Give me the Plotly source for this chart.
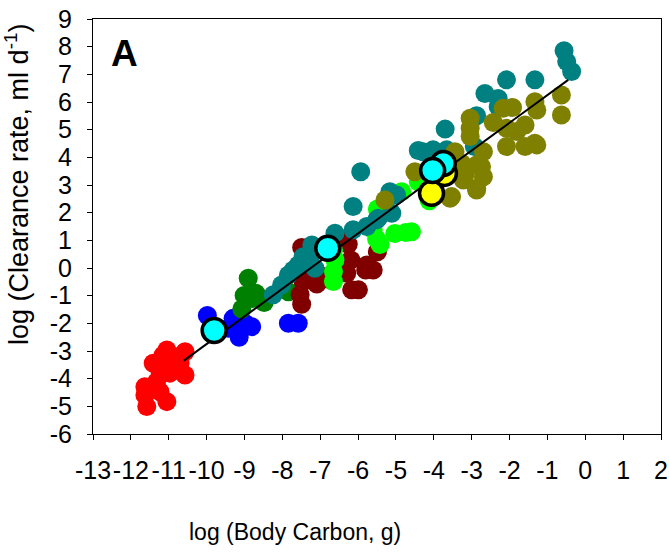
import plotly.graph_objects as go

# ---- data (log body carbon, log clearance rate) ----
red_x = [-11.05, -10.57, -11.41, -11.05, -10.70, -10.57, -10.97, -11.23, -11.63, -11.63, -11.23, -11.05, -11.58, -11.32, -10.85, -11.15, -10.80]
red_y = [-2.96, -3.03, -3.44, -3.44, -3.44, -3.87, -3.80, -3.75, -4.29, -4.59, -4.47, -4.83, -5.01, -4.11, -3.20, -3.15, -3.65]

blue_x = [-9.98, -9.20, -9.30, -9.12, -8.81, -8.99, -9.43, -9.14, -7.84, -7.58, -9.05]
blue_y = [-1.72, -1.90, -1.82, -2.30, -2.12, -2.00, -2.18, -2.50, -2.00, -2.00, -2.15]

green_x = [-8.90, -9.01, -8.70, -9.07, -8.48, -7.84, -8.80]
green_y = [-0.37, -0.99, -0.91, -1.48, -1.25, -0.86, -1.10]

maroon_x = [-7.49, -7.45, -7.53, -7.49, -7.09, -6.92, -6.35, -6.26, -6.19, -6.30, -6.17, -5.99, -5.80, -5.60, -5.49, -5.77, -7.25, -6.70]
maroon_y = [0.74, -0.50, -0.97, -1.31, -0.58, -0.31, 1.01, 0.86, 0.29, -0.19, -0.79, -0.79, -0.07, -0.07, 0.59, 0.11, 0.00, -0.45]

lime_x = [-6.65, -6.61, -6.65, -6.65, -5.60, -5.51, -5.49, -4.85, -4.74, -4.59, -5.03, -5.42, -4.12, -4.41]
lime_y = [0.65, 0.29, -0.13, -0.49, 1.38, 1.05, 2.13, 2.76, 1.28, 1.31, 1.25, 0.85, 2.43, 3.12]

teal_x = [-8.24, -8.02, -7.84, -7.58, -7.27, -7.14, -7.22, -6.61, -6.13, -5.77, -5.51, -7.71, -7.45,
          -5.93, -6.13, -5.47, -5.11, -5.16, -4.98, -4.28, -4.02, -3.66, -4.41, -2.93,
          -0.56, -0.49, -0.36, -2.08, -1.33, -2.65, -2.30, -2.87, -3.70, -2.30]
teal_y = [-0.97, -0.61, -0.25, 0.11, 0.29, -0.01, 0.83, 1.26, 1.38, 1.50, 1.74, -0.07, 0.41,
          3.48, 2.22, 1.80, 1.98, 2.76, 2.64, 4.20, 4.27, 4.27, 4.25, 4.39,
          7.85, 7.46, 7.10, 6.80, 6.80, 6.31, 6.13, 5.50, 5.02, 5.83]

olive_x = [-5.29, -4.50, -3.57, -3.44, -3.26, -3.18, -3.04, -3.04, -3.04, -2.87, -2.87, -2.69, -2.69,
           -2.43, -2.17, -1.92, -2.08, -2.08, -1.81, -1.59, -1.59, -1.33, -1.28, -1.28, -0.63, -0.63,
           -1.33, -3.22, -3.53, -4.20, -3.95, -2.74, -2.87]
olive_y = [2.46, 3.48, 2.52, 4.20, 3.78, 3.36, 5.05, 4.75, 5.41, 3.72, 2.88, 4.20, 3.30,
           5.26, 5.77, 5.80, 5.05, 4.39, 4.93, 5.17, 4.39, 6.01, 5.71, 4.45, 6.25, 5.53,
           4.51, 3.18, 2.58, 3.50, 3.35, 3.66, 2.82]

yellow_x = [-3.72, -4.06]
yellow_y = [3.42, 2.70]

cyan_x = [-9.80, -6.80, -3.75, -4.03]
cyan_y = [-2.26, 0.71, 3.78, 3.52]

fit_x = [-10.6, -0.45]
fit_y = [-3.35, 6.80]

x_ticks = list(range(-13, 3))
y_ticks = list(range(-6, 10))

fig = go.Figure()

def pts(x, y, color):
    fig.add_trace(go.Scatter(x=x, y=y, mode="markers",
                             marker=dict(size=19, color=color, line=dict(width=0)),
                             showlegend=False, hoverinfo="skip"))

pts(red_x, red_y, "#FF0000")
pts(blue_x, blue_y, "#0000FF")
pts(green_x, green_y, "#008000")
pts(maroon_x, maroon_y, "#800000")
pts(lime_x, lime_y, "#00FF00")
pts(teal_x, teal_y, "#008080")
pts(olive_x, olive_y, "#808000")

fig.add_trace(go.Scatter(x=fit_x, y=fit_y, mode="lines",
                         line=dict(color="black", width=2), showlegend=False, hoverinfo="skip"))

for xs, ys, c in [(yellow_x, yellow_y, "#FFFF00"), (cyan_x, cyan_y, "#00FFFF")]:
    fig.add_trace(go.Scatter(x=xs, y=ys, mode="markers",
                             marker=dict(size=24, color=c, line=dict(width=3.5, color="black")),
                             showlegend=False, hoverinfo="skip"))

sans = "Liberation Sans, Arial, sans-serif"

fig.update_xaxes(range=[-13, 2], tickmode="array", tickvals=x_ticks,
                 ticktext=[str(v) for v in x_ticks], tickangle=0, automargin=False,
                 ticks="outside", ticklen=5, tickwidth=1, tickcolor="black",
                 showline=True, linecolor="black", linewidth=1, mirror=True,
                 showgrid=False, zeroline=False,
                 tickfont=dict(family=sans, size=25, color="black"),
                 ticklabelstandoff=9)
fig.update_yaxes(range=[-6, 9], tickmode="array", tickvals=y_ticks,
                 ticktext=[str(v) for v in y_ticks], automargin=False,
                 ticks="outside", ticklen=5, tickwidth=1, tickcolor="black",
                 showline=True, linecolor="black", linewidth=1, mirror=True,
                 showgrid=False, zeroline=False,
                 tickfont=dict(family=sans, size=25, color="black"),
                 ticklabelstandoff=10)

fig.update_layout(
    width=669, height=552,
    margin=dict(l=93, r=8, t=19, b=118),
    paper_bgcolor="white", plot_bgcolor="white",
    annotations=[
        dict(text="A", x=0.056, y=0.916, xref="paper", yref="paper",
             xanchor="center", yanchor="middle", showarrow=False,
             font=dict(family=sans, size=37, color="black", weight="bold")),
        dict(text="log (Body Carbon, g)", x=0.3556, y=-0.236, xref="paper", yref="paper",
             xanchor="center", yanchor="middle", showarrow=False,
             font=dict(family=sans, size=23, color="black")),
        dict(text="log (Clearance rate, ml d<sup>-1</sup>)", x=-0.1338, y=0.60,
             xref="paper", yref="paper", textangle=-90,
             xanchor="center", yanchor="middle", showarrow=False,
             font=dict(family=sans, size=27, color="black")),
    ],
)

fig.write_html("out.html", config={"displayModeBar": False},
               post_script="document.body.style.margin='0px';")
